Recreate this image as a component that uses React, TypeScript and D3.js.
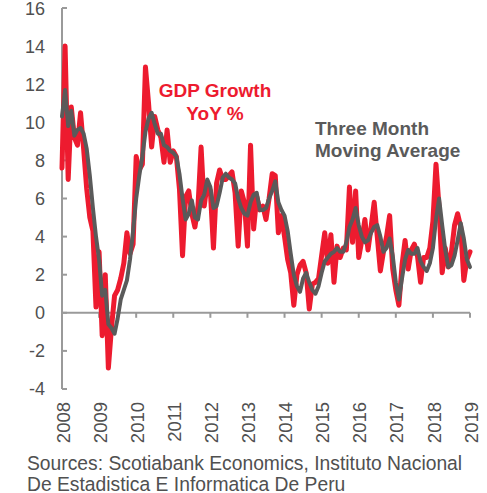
import React from "react";
import * as d3 from "d3";

const years = ["2008","2009","2010","2011","2012","2013","2014","2015","2016","2017","2018","2019"];
const yTicks = [-4, -2, 0, 2, 4, 6, 8, 10, 12, 14, 16];

// Monthly GDP growth YoY % (Jan 2008 .. Jan 2019)
const gdpYoY = [
  7.6, 14.0, 7.0, 10.8, 9.2, 8.8, 10.5, 8.6, 6.5, 5.0, 4.3, 0.3,
  3.2, -1.2, 2.0, -2.9, -0.8, 0.9, 1.2, 1.8, 2.6, 4.2, 3.1, 3.6,
  8.2, 7.5, 7.8, 12.9, 11.0, 8.7, 10.3, 9.6, 9.2, 7.9, 9.6, 7.9,
  8.5, 8.2, 6.5, 3.0, 6.1, 6.4, 5.2, 4.5, 5.6, 8.7, 5.6, 6.8,
  6.4, 3.4, 6.8, 7.5, 7.0, 7.0, 7.2, 7.4, 6.3, 3.5, 6.4, 5.8,
  3.5, 8.8, 4.4, 6.1, 5.4, 5.6, 4.9, 6.0, 7.3, 7.2, 4.2, 5.1,
  4.0, 2.8, 2.1, 0.4, 2.0, 2.5, 2.7, 2.1, 0.2, 1.5, 1.6, 1.8,
  3.0, 4.2, 2.6, 4.1, 1.6, 3.5, 2.9, 3.4, 3.3, 6.6, 3.7, 6.4,
  2.9, 3.8, 4.9, 3.3, 4.5, 5.8, 4.0, 2.2, 3.2, 4.0, 5.1, 2.3,
  1.2, 0.4, 2.5, 3.8, 2.3, 3.3, 3.6, 3.0, 1.6, 2.9, 2.9, 3.4,
  4.8, 7.8, 5.5, 2.1, 3.4, 2.4, 3.2, 4.6, 5.2, 4.5, 1.7, 2.8,
  3.2,
];

// Three month moving average
const movingAvg = [
  10.3, 11.7, 9.8, 10.6, 9.3, 9.6, 9.7, 9.4, 8.6, 7.2, 5.5, 4.0,
  2.8, 0.9, 1.2, -0.6, -0.8, -1.1, -0.3, 0.7, 1.2, 1.7, 2.8, 4.3,
  6.0, 7.2, 8.2, 9.5, 10.2, 10.5, 9.9, 9.4, 9.4, 8.8, 8.7, 8.5,
  8.4, 8.2, 7.3, 6.0, 4.9, 5.2, 5.9, 5.0, 4.9, 5.9, 6.2, 7.0,
  6.6, 5.5, 5.6, 6.3, 7.1, 7.3, 7.1, 7.0, 6.8, 6.0, 5.5, 5.2,
  5.1, 5.8, 6.2, 6.3, 5.4, 5.4, 5.5, 6.0, 6.4, 6.9, 5.8, 5.4,
  5.1, 4.3, 3.1, 2.0, 1.4, 1.1, 1.8, 2.1, 1.6, 1.2, 1.0, 1.4,
  2.1, 2.7, 2.9, 3.1, 3.2, 3.4, 3.2, 3.2, 3.7, 4.5, 4.9, 5.5,
  4.6, 4.0, 3.7, 3.8, 4.2, 4.5, 4.6, 4.0, 3.2, 3.4, 3.9, 3.0,
  1.6, 0.7, 1.8, 2.8, 3.3, 3.1, 3.1, 3.4, 2.7, 2.4, 2.2, 2.6,
  3.4, 4.9, 6.0, 4.6, 3.3, 2.4, 2.5, 3.0, 3.8, 4.7, 3.9, 2.8,
  2.4,
];

const RED = "#ED1B2F";
const GRAY = "#5A5A5A";
const AXIS = "#9A9A9A";
const TEXT = "#505050";
const FONT = "'Liberation Sans', Arial, sans-serif";

export default function App() {
  const x = d3.scaleLinear().domain([0, 132]).range([62, 470]);
  const y = d3.scaleLinear().domain([-4, 16]).range([389, 8]);
  const line = d3
    .line<number>()
    .x((_, i) => x(i))
    .y((d) => y(d));

  return (
    <svg
      width={487}
      height={493}
      style={{ position: "absolute", left: 0, top: 0, background: "#fff" }}
      fontFamily={FONT}
    >
      {/* y axis */}
      <line x1={62} x2={62} y1={y(16)} y2={y(-4)} stroke={AXIS} strokeWidth={2} />
      {yTicks.map((t) => (
        <g key={t}>
          <line x1={62} x2={67} y1={y(t)} y2={y(t)} stroke={AXIS} strokeWidth={2} />
          <text
            x={45}
            y={y(t) + (t === 16 ? 1 : 0)}
            dy="0.36em"
            textAnchor="end"
            fontSize={18}
            fill={TEXT}
          >
            {t}
          </text>
        </g>
      ))}
      {/* x axis */}
      <line x1={62} x2={x(132)} y1={y(0)} y2={y(0)} stroke={AXIS} strokeWidth={2} />
      {years.map((yr, k) => (
        <g key={yr}>
          <line x1={x(12 * k)} x2={x(12 * k)} y1={y(0)} y2={y(0) + 5} stroke={AXIS} strokeWidth={2} />
          <text
            transform={`translate(${x(12 * k) + 1},402) rotate(-90)`}
            textAnchor="end"
            dy="0.36em"
            fontSize={18.5}
            fill={TEXT}
          >
            {yr}
          </text>
        </g>
      ))}
      {/* series */}
      <path d={line(gdpYoY) || ""} fill="none" stroke={RED} strokeWidth={5} strokeLinejoin="round" strokeLinecap="round" />
      <path d={line(movingAvg) || ""} fill="none" stroke={GRAY} strokeWidth={4} strokeLinejoin="round" strokeLinecap="round" />
      {/* annotations */}
      <text x={215} y={97} textAnchor="middle" fontSize={19} fontWeight="bold" fill={RED}>
        GDP Growth
      </text>
      <text x={215} y={120} textAnchor="middle" fontSize={19} fontWeight="bold" fill={RED}>
        YoY %
      </text>
      <text x={315} y={135} fontSize={19} fontWeight="bold" fill={GRAY}>
        Three Month
      </text>
      <text x={315} y={157} fontSize={19} fontWeight="bold" fill={GRAY}>
        Moving Average
      </text>
      {/* source */}
      <text x={27} y={470} fontSize={19.3} fill={TEXT}>
        Sources: Scotiabank Economics, Instituto Nacional
      </text>
      <text x={27} y={490.5} fontSize={19.3} fill={TEXT}>
        De Estadistica E Informatica De Peru
      </text>
    </svg>
  );
}
